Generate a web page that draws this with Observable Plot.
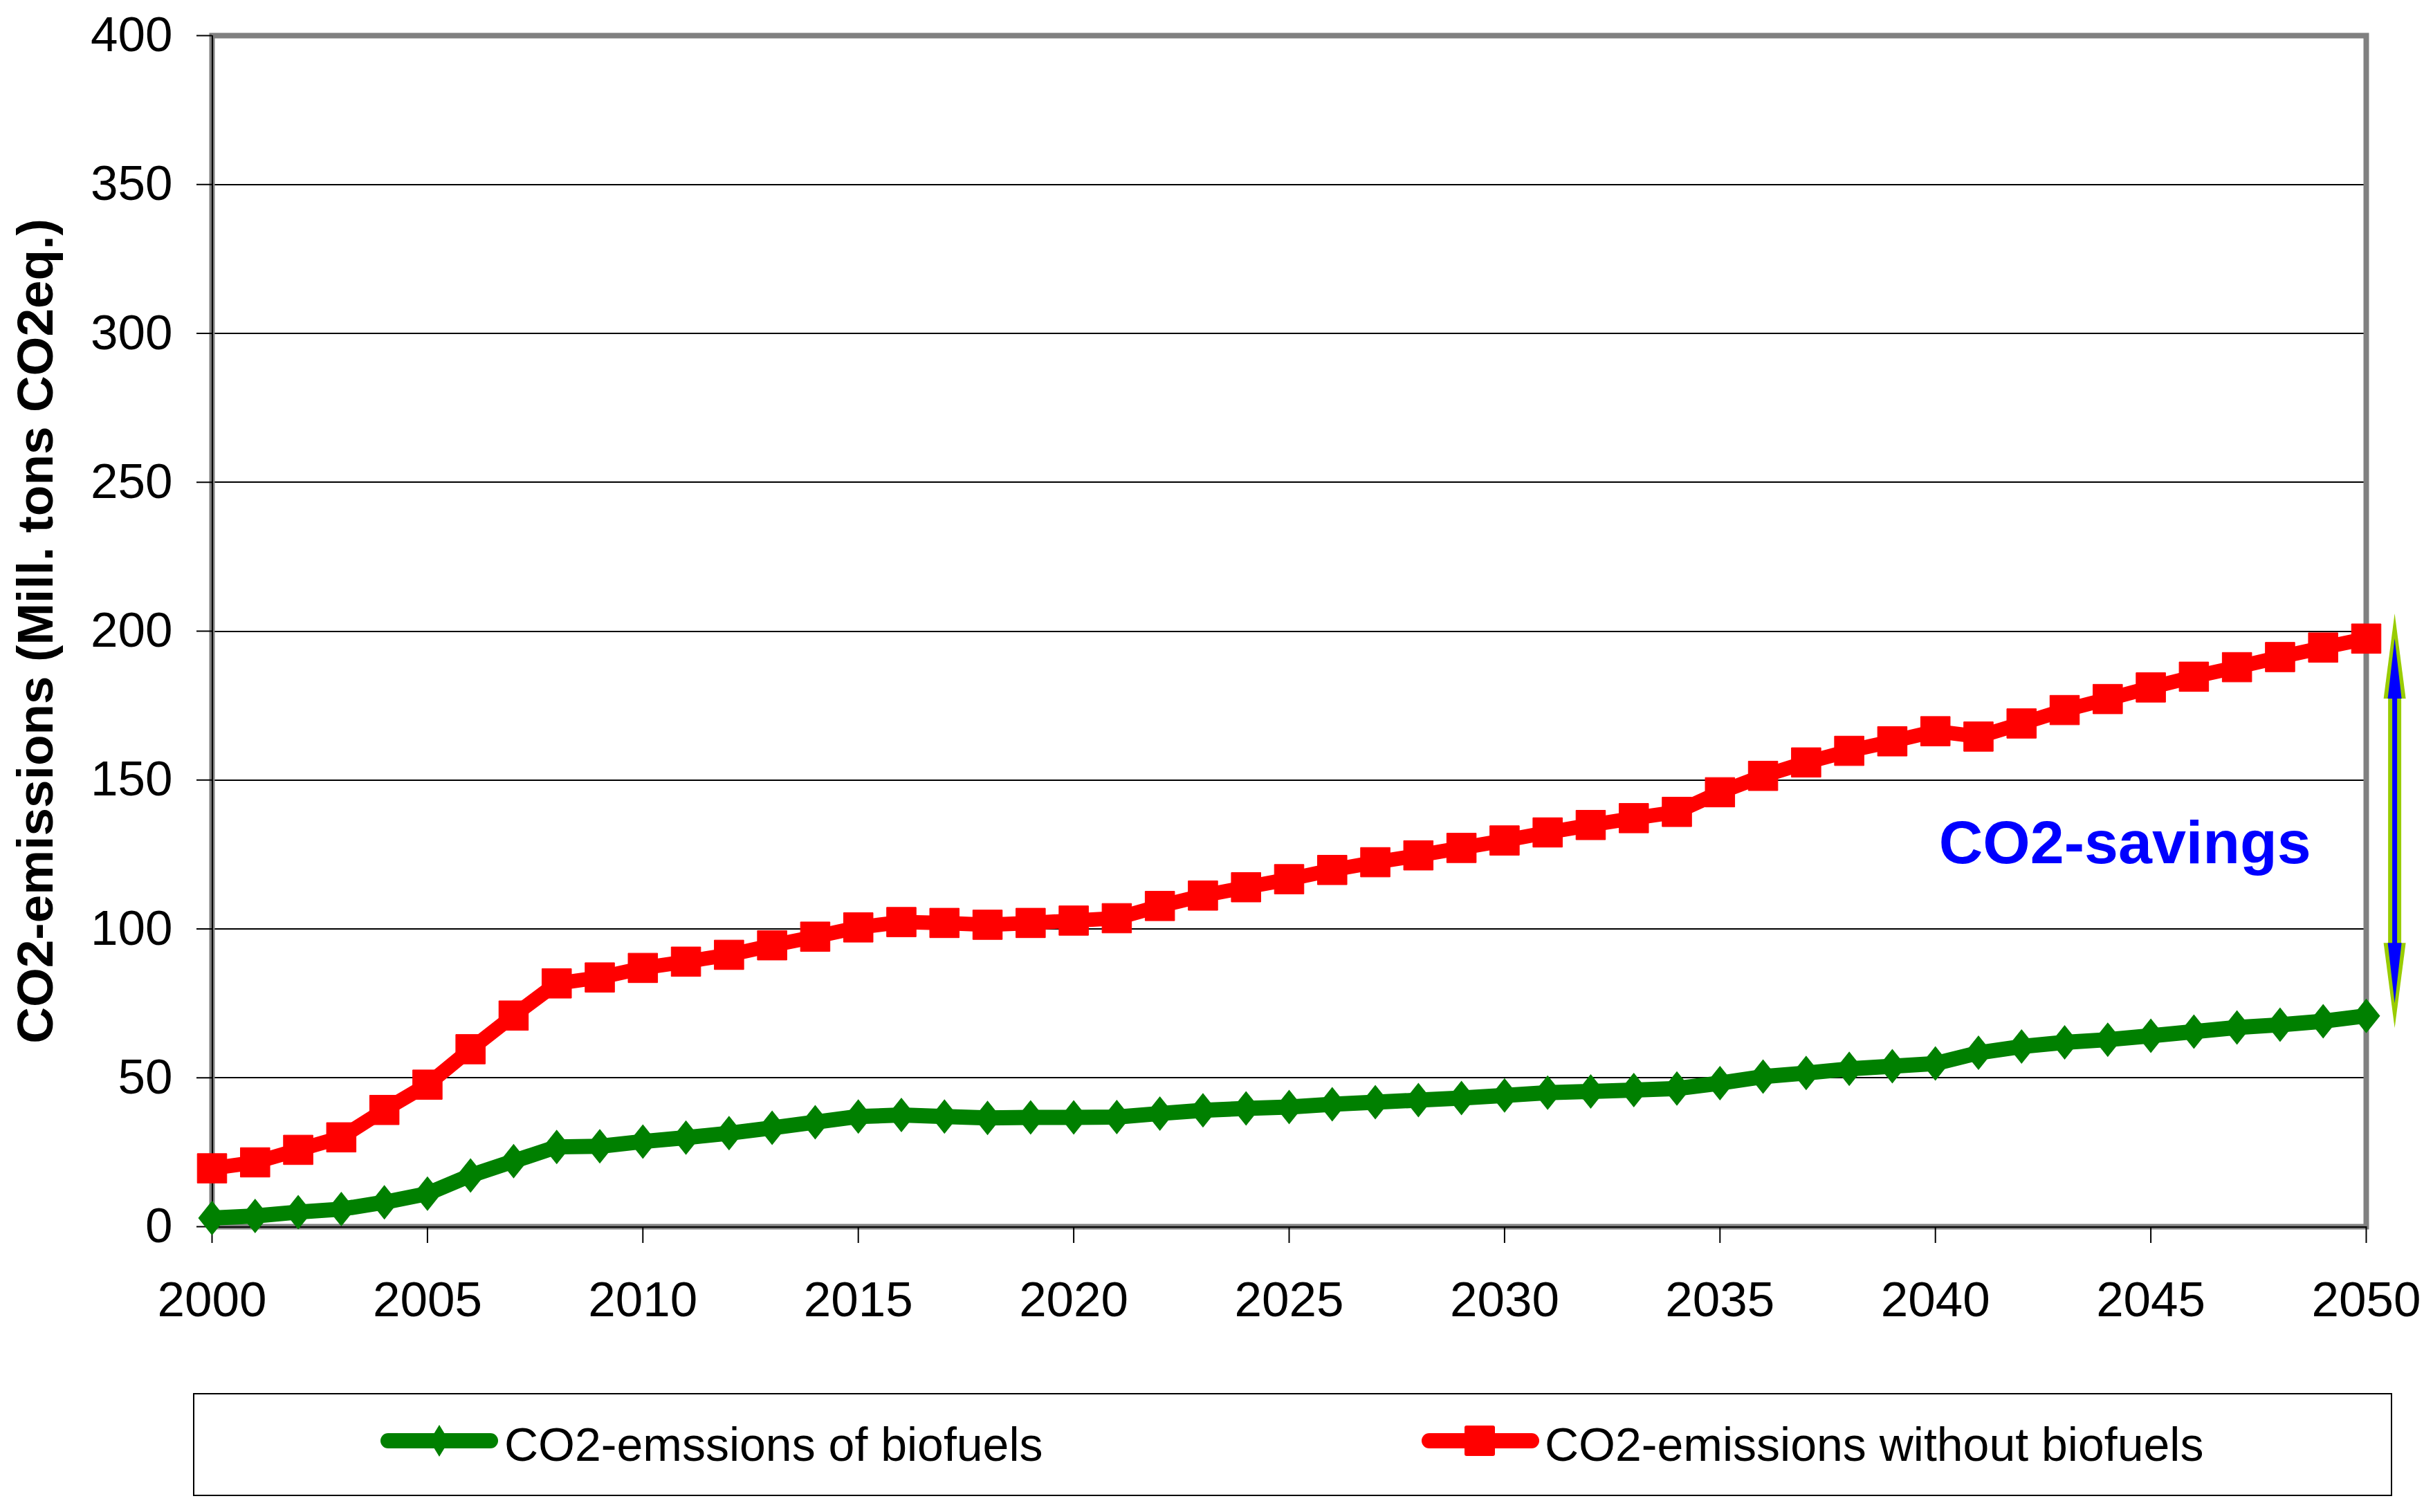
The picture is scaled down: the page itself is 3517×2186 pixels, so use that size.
<!DOCTYPE html>
<html>
<head>
<meta charset="utf-8">
<script src="https://cdn.jsdelivr.net/npm/d3@7"></script>
<script src="https://cdn.jsdelivr.net/npm/@observablehq/plot@0.6"></script>
<style>
  html, body { margin: 0; padding: 0; background: #fff; }
  body { width: 3517px; height: 2186px; position: relative; overflow: hidden;
         font-family: "Liberation Sans", Arial, sans-serif; }
  #chart { position: absolute; left: 0; top: 0; }
  #legend { position: absolute; left: 279px; top: 2014px; width: 3175px; height: 145px;
            border: 2px solid #000; background: #fff; }
  .swatch { position: absolute; top: 0; }
  .ltext { position: absolute; top: 0; height: 145px; line-height: 145px; font-size: 68px;
           color: #000; white-space: nowrap; }
</style>
</head>
<body>
<div id="chart"></div>
<div id="legend"></div>
<script>
// ---- data ----
const years = d3.range(2000, 2051);
const seriesNames = ["CO2-emssions of biofuels", "CO2-emissions without biofuels"];
const emissionsOfBiofuels = [
  2.9, 3.6, 4.9, 5.9, 8.2, 11.1, 17.2, 22.0, 26.8, 27.0,
  28.6, 29.9, 31.4, 33.2, 35.1, 37.0, 37.5, 37.0, 36.5, 36.7,
  36.7, 36.8, 38.0, 39.1, 39.7, 40.2, 41.1, 41.8, 42.5, 43.2,
  44.1, 45.0, 45.4, 45.9, 46.4, 48.2, 50.4, 51.6, 53.0, 53.9,
  54.8, 58.4, 60.5, 61.9, 62.8, 64.1, 65.5, 66.9, 67.8, 69.0,
  70.8
];
const emissionsWithoutBiofuels = [
  19.6, 21.6, 25.8, 30.0, 39.2, 47.7, 59.6, 70.9, 81.7, 83.7,
  86.9, 89.0, 91.3, 94.5, 97.4, 100.5, 102.3, 102.0, 101.4, 102.0,
  102.8, 103.6, 107.7, 111.2, 114.0, 116.7, 119.8, 122.4, 124.7, 127.2,
  129.7, 132.4, 134.9, 137.2, 139.3, 145.9, 151.4, 155.9, 159.8, 163.0,
  166.4, 164.6, 169.0, 173.5, 177.2, 181.1, 184.7, 187.9, 191.3, 194.5,
  197.5
];
const xTicks = d3.range(2000, 2051, 5);
const yTicks = d3.range(0, 401, 50);
const yTitle = "CO2-emissions (Mill. tons CO2eq.)";
const savingsLabel = [{text: "CO2-savings", year: 2044.4, value: 128.6}];
const savingsArrow = [{year: 2050.66, top: 205.9, bottom: 66.7, shaftTop: 179.6, shaftBottom: 93.6}];

// ---- symbols ----
const diamond = { draw(ctx, size) { const r = Math.sqrt(size / Math.PI);
  ctx.moveTo(0, -r); ctx.lineTo(0.8 * r, 0); ctx.lineTo(0, r); ctx.lineTo(-0.8 * r, 0); ctx.closePath(); } };
const headOuter = (dir) => ({ draw(ctx) {
  ctx.moveTo(0, 0); ctx.lineTo(16, dir * 123); ctx.lineTo(-16, dir * 123); ctx.closePath(); } });
const headInner = (dir) => ({ draw(ctx) {
  ctx.moveTo(0, dir * 36); ctx.lineTo(10, dir * 123); ctx.lineTo(-10, dir * 123); ctx.closePath(); } });

const GREEN = "#008000", RED = "#FF0000", BLUE = "#0000FF", LIME = "#99CC00";

const plot = Plot.plot({
  width: 3517,
  height: 1990,
  marginLeft: 306,
  marginRight: 97,
  marginTop: 51,
  marginBottom: 217,
  style: { fontFamily: '"Liberation Sans", Arial, sans-serif', fontSize: "71px", color: "#000",
           background: "#fff", overflow: "visible" },
  x: { type: "linear", domain: [2000, 2050] },
  y: { type: "linear", domain: [0, 400] },
  marks: [
    Plot.gridY(yTicks, { stroke: "#000", strokeOpacity: 1, strokeWidth: 2, shapeRendering: "crispEdges" }),
    Plot.frame({ stroke: "#808080", strokeWidth: 8 }),
    Plot.ruleX([2000], { stroke: "#000", strokeWidth: 2, shapeRendering: "crispEdges" }),
    Plot.ruleY([0], { stroke: "#000", strokeWidth: 2, shapeRendering: "crispEdges" }),
    Plot.axisX(xTicks, { tickSize: 24, tickPadding: 55, tickFormat: d => String(d), label: null,
                         strokeWidth: 2, stroke: "#000", fill: "#000" }),
    Plot.axisY(yTicks, { tickSize: 22, tickPadding: 35, tickFormat: d => String(d), label: null,
                         strokeWidth: 2, stroke: "#000", fill: "#000" }),
    Plot.text([yTitle], { frameAnchor: "left", dx: -254, rotate: -90, fontWeight: "bold",
                          fontSize: 73, textAnchor: "middle", lineAnchor: "middle", fill: "#000" }),
    // series
    Plot.line(years, { x: d => d, y: (d, i) => emissionsOfBiofuels[i], stroke: GREEN, strokeWidth: 22,
                       strokeLinejoin: "round" }),
    Plot.dot(years, { x: d => d, y: (d, i) => emissionsOfBiofuels[i], symbol: diamond, r: 25,
                      fill: GREEN, stroke: "none" }),
    Plot.line(years, { x: d => d, y: (d, i) => emissionsWithoutBiofuels[i], stroke: RED, strokeWidth: 21,
                       strokeLinejoin: "round" }),
    Plot.dot(years, { x: d => d, y: (d, i) => emissionsWithoutBiofuels[i], symbol: "square", r: 24,
                      fill: RED, stroke: RED, strokeWidth: 1, strokeLinejoin: "round" }),
    // annotation
    Plot.text(savingsLabel, { x: "year", y: "value", text: "text", fill: BLUE, fontWeight: "bold",
                              fontSize: 88, textAnchor: "middle", lineAnchor: "middle" }),
    Plot.link(savingsArrow, { x1: "year", x2: "year", y1: "shaftTop", y2: "shaftBottom", stroke: LIME, strokeWidth: 19 }),
    Plot.dot(savingsArrow, { x: "year", y: "top", symbol: headOuter(1), r: 10, fill: LIME, stroke: "none" }),
    Plot.dot(savingsArrow, { x: "year", y: "bottom", symbol: headOuter(-1), r: 10, fill: LIME, stroke: "none" }),
    Plot.link(savingsArrow, { x1: "year", x2: "year", y1: "shaftTop", y2: "shaftBottom", stroke: BLUE, strokeWidth: 7 }),
    Plot.dot(savingsArrow, { x: "year", y: "top", symbol: headInner(1), r: 10, fill: BLUE, stroke: "none" }),
    Plot.dot(savingsArrow, { x: "year", y: "bottom", symbol: headInner(-1), r: 10, fill: BLUE, stroke: "none" })
  ]
});
document.getElementById("chart").appendChild(plot);

// ---- legend ----
const legend = d3.select("#legend");
const items = [
  { name: seriesNames[0], color: GREEN, marker: "diamond", swatchLeft: 264, textLeft: 448 },
  { name: seriesNames[1], color: RED, marker: "square", swatchLeft: 1769, textLeft: 1952 }
];
for (const it of items) {
  const svg = legend.append("svg").attr("class", "swatch")
    .attr("width", 180).attr("height", 145).style("left", it.swatchLeft + "px");
  svg.append("line").attr("x1", 16).attr("x2", 164).attr("y1", 67).attr("y2", 67)
    .attr("stroke", it.color).attr("stroke-width", 22).attr("stroke-linecap", "round");
  if (it.marker === "diamond") {
    svg.append("path").attr("d", "M90,44 L104,67 L90,90 L76,67 Z").attr("fill", it.color);
  } else {
    svg.append("rect").attr("x", 67).attr("y", 45).attr("width", 44).attr("height", 44)
      .attr("rx", 3).attr("fill", it.color);
  }
  legend.append("div").attr("class", "ltext").style("left", it.textLeft + "px").text(it.name);
}
</script>
</body>
</html>
